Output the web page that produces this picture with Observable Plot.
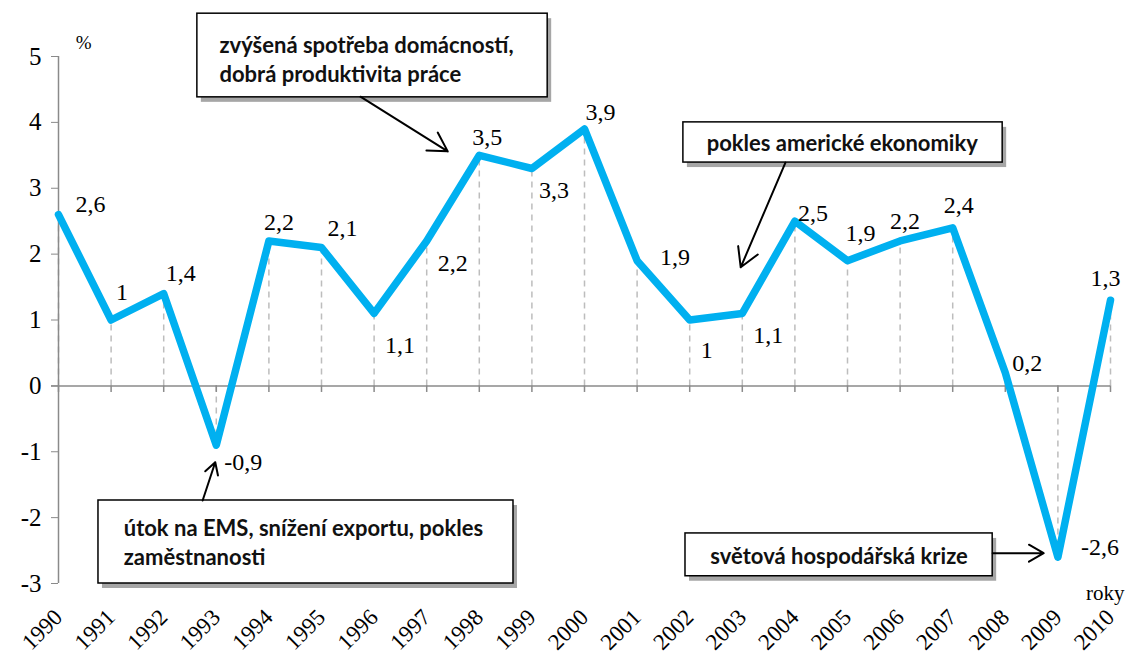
<!DOCTYPE html>
<html><head><meta charset="utf-8">
<script src="https://cdn.jsdelivr.net/npm/d3@7"></script>
<script src="https://cdn.jsdelivr.net/npm/@observablehq/plot@0.6"></script>
<style>body{margin:0;background:#fff}</style>
</head><body><div id="chart"></div>
<script>
// ---- data ----
const years = [1990,1991,1992,1993,1994,1995,1996,1997,1998,1999,2000,2001,2002,2003,2004,2005,2006,2007,2008,2009,2010];
const values = [2.6,1,1.4,-0.9,2.2,2.1,1.1,2.2,3.5,3.3,3.9,1.9,1,1.1,2.5,1.9,2.2,2.4,0.2,-2.6,1.3];
const yTicks = [-3,-2,-1,0,1,2,3,4,5];
const yUnit = "%";
const xUnit = "roky";
const noteTexts = [
  "zvýšená spotřeba domácností,\ndobrá produktivita práce",
  "pokles americké ekonomiky",
  "útok na EMS, snížení exportu, pokles\nzaměstnanosti",
  "světová hospodářská krize"
];

// ---- layout / style (label offsets, annotation geometry in data units) ----
const labelOffsets = [[32,-10],[11,-28],[17,-20],[27,17],[10,-19],[21,-19],[26,32],[26,22],[8,-18],[22,22],[16,-17],[38,-3],[17,30],[26,22],[18,-8],[13,-27],[5,-20],[6,-22],[22,-9],[42,-10],[-5,-22]];
const noteBoxes = [
  {x1:1992.64,x2:1999.30,y1:4.38,y2:5.65, tx:1993.06, ty:4.97, anchor:"start"},
  {x1:2001.88,x2:2007.95,y1:3.39,y2:4.00, tx:2004.90, ty:3.70, anchor:"middle"},
  {x1:1990.76,x2:1998.65,y1:-3.00,y2:-1.74, tx:1991.24, ty:-2.36, anchor:"start"},
  {x1:2001.92,x2:2007.76,y1:-2.89,y2:-2.24, tx:2004.84, ty:-2.57, anchor:"middle"}
];
const noteArrows = [
  {x1:1995.74,y1:4.39,x2:1997.40,y2:3.56},
  {x1:2003.82,y1:3.39,x2:2002.97,y2:1.80},
  {x1:1992.74,y1:-1.74,x2:1992.98,y2:-1.16},
  {x1:2007.76,y1:-2.54,x2:2008.73,y2:-2.54}
];

const data = years.map((year, i) => ({year, value: values[i]}));
const fmt = v => String(v).replace(".", ",");
const serif = "Liberation Serif, serif";
const sans = "Lato, sans-serif";

const marks = [
  Plot.ruleX(data, {x:"year", y1:0, y2:"value", stroke:"#bdbdbd", strokeWidth:1.5, strokeDasharray:"6,5"}),
  Plot.ruleY([0], {stroke:"#8a8a8a", strokeWidth:1.5, insetLeft:-7}),
  Plot.ruleX(years, {x:d=>d, y1:0, y2:-0.1, stroke:"#8a8a8a", strokeWidth:1.5}),
  Plot.ruleX([1990], {y1:-3, y2:5, stroke:"#8a8a8a", strokeWidth:1.5}),
  Plot.axisY({ticks:yTicks, tickFormat:d=>String(d), tickSize:7, tickPadding:10, fontSize:25, fontFamily:serif, stroke:"#8a8a8a", fill:"black"}),
  Plot.line(data, {x:"year", y:"value", stroke:"#000", strokeOpacity:0.35, strokeWidth:7.5, dx:3, dy:4, strokeLinejoin:"round", strokeLinecap:"round", ariaLabel:"shadow"}),
  Plot.line(data, {x:"year", y:"value", stroke:"#00b0f0", strokeWidth:7.5, strokeLinejoin:"round", strokeLinecap:"round"}),
  ...data.map((d, i) => Plot.text([d], {x:"year", y:"value", text:d=>fmt(d.value), dx:labelOffsets[i][0], dy:labelOffsets[i][1], fontSize:24, fontFamily:serif, fill:"black"})),
  Plot.text(years, {x:d=>d, frameAnchor:"bottom", text:d=>String(d), rotate:-45, textAnchor:"end", lineAnchor:"middle", dx:0, dy:30, fontSize:23, fontFamily:serif, fill:"black"}),
  Plot.text([yUnit], {x:1990.48, y:5.21, text:d=>d, fontSize:19, fontFamily:serif, fill:"black"}),
  Plot.text([xUnit], {x:2009.9, y:-3.15, text:d=>d, fontSize:21, fontFamily:serif, fill:"black"}),
  Plot.rect(noteBoxes, {x1:"x1", x2:"x2", y1:"y1", y2:"y2", fill:"#000", fillOpacity:0.35, dx:4, dy:5, ariaLabel:"shadow"}),
  Plot.rect(noteBoxes, {x1:"x1", x2:"x2", y1:"y1", y2:"y2", fill:"white", stroke:"black", strokeWidth:1.5}),
  ...noteBoxes.map((b, i) => Plot.text([b], {x:"tx", y:"ty", text:() => noteTexts[i], textAnchor:b.anchor, lineAnchor:"middle", lineHeight:1.3, fontSize:22, fontWeight:"bold", fontFamily:sans, fill:"#111"})),
  Plot.arrow(noteArrows, {x1:"x1", y1:"y1", x2:"x2", y2:"y2", stroke:"black", strokeWidth:2, headLength:16})
];

const chart = Plot.plot({
  width:1128, height:659,
  marginLeft:58, marginRight:18, marginTop:56, marginBottom:76,
  x:{domain:[1990,2010], axis:null},
  y:{domain:[-3,5]},
  style:{fontFamily:serif, fontSize:"22px", color:"black", background:"white", overflow:"visible"},
  marks
});

const ns = "http://www.w3.org/2000/svg";
const defs = document.createElementNS(ns, "defs");
defs.innerHTML = '<filter id="blur" x="-20%" y="-20%" width="140%" height="140%"><feGaussianBlur stdDeviation="3"/></filter>';
chart.insertBefore(defs, chart.firstChild);
chart.querySelectorAll('[aria-label="shadow"]').forEach(g => g.setAttribute("filter", "url(#blur)"));
document.getElementById("chart").appendChild(chart);
</script>
</body></html>
